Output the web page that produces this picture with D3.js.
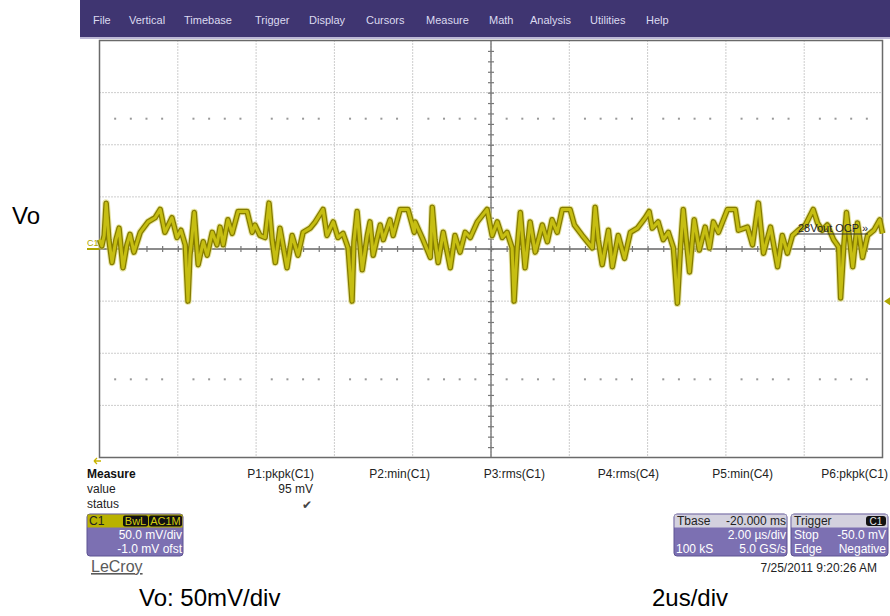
<!DOCTYPE html>
<html>
<head>
<meta charset="utf-8">
<script src="https://cdnjs.cloudflare.com/ajax/libs/d3/7.8.5/d3.min.js"></script>
<style>
  body { margin: 0; background: #fff; }
  svg text { font-family: "Liberation Sans", Arial, sans-serif; }
</style>
</head>
<body>
<svg id="scope" width="890" height="616"></svg>
<script>
// menu entries across the top bar
var menuItems = ["File", "Vertical", "Timebase", "Trigger", "Display", "Cursors", "Measure", "Math", "Analysis", "Utilities", "Help"];
var menuX = [93, 129, 184, 255, 309, 366, 426, 489, 530, 590, 646];

// grid: 10 time divisions (2 us/div), 8 volt divisions (50 mV/div)
var gridTimes = [0, 2, 4, 6, 8, 10, 12, 14, 16, 18, 20];
var gridVolts = [-200, -150, -100, -50, 0, 50, 100, 150, 200];

// C1 trace (time in us, voltage in mV)
var traceTime = [0.00, 0.06, 0.12, 0.17, 0.24, 0.32, 0.42, 0.50, 0.60, 0.70, 0.78, 0.88, 1.04, 1.24, 1.42, 1.55, 1.67, 1.85, 1.98, 2.08,
  2.19, 2.26, 2.31, 2.36, 2.42, 2.52, 2.65, 2.75, 2.88, 3.00, 3.08, 3.16, 3.28, 3.39, 3.54, 3.77, 3.90, 3.97, 4.10, 4.23,
  4.33, 4.41, 4.49, 4.61, 4.79, 4.92, 5.07, 5.20, 5.38, 5.51, 5.71, 5.81, 5.97, 6.09, 6.22, 6.35, 6.45, 6.50, 6.58, 6.71,
  6.84, 6.91, 6.99, 7.17, 7.25, 7.42, 7.50, 7.68, 7.88, 8.04, 8.06, 8.24, 8.45, 8.50, 8.57, 8.65, 8.78, 8.96, 9.08, 9.21,
  9.34, 9.47, 9.65, 9.90, 10.03, 10.16, 10.29, 10.41, 10.54, 10.59, 10.67, 10.75, 10.87, 11.00, 11.13, 11.31, 11.44, 11.56, 11.69, 11.82,
  12.02, 12.13, 12.33, 12.59, 12.66, 12.74, 12.84, 13.00, 13.10, 13.25, 13.41, 13.56, 13.74, 13.94, 14.04, 14.12, 14.27, 14.40, 14.53, 14.66,
  14.76, 14.84, 14.91, 15.07, 15.19, 15.32, 15.47, 15.58, 15.68, 15.81, 16.04, 16.24, 16.32, 16.55, 16.68, 16.83, 16.96, 17.14, 17.32, 17.44,
  17.57, 17.70, 17.85, 18.03, 18.23, 18.34, 18.46, 18.59, 18.75, 18.88, 18.93, 19.01, 19.08, 19.24, 19.36, 19.49, 19.62, 19.78, 19.93, 20.00];
var traceMv = [9, 3, 13, 44, 9, -13, 9, 20, -18, 4, 14, -3, 16, 26, 30, 38, 16, 30, 11, 18,
  4, -50, -6, 11, 35, -15, 7, -6, 16, 4, 21, 4, 28, 15, 36, 36, 16, 23, 13, 11,
  44, 9, -13, 20, -18, 13, -6, 16, 20, 26, 38, 13, 26, 11, 15, 1, -50, 7, 36, -20,
  13, 26, -6, 23, 9, 28, 13, 38, 38, 16, 26, 11, -8, 40, 9, -13, 16, -18, 13, -3,
  16, 11, 26, 38, 13, 26, 11, 16, 1, -50, 1, 35, -18, 26, -3, 23, 7, 28, 16, 38,
  38, 23, 13, 1, 40, 9, -15, 18, -17, 13, -9, 16, 20, 30, 36, 20, 26, 9, 16, 1,
  -52, 1, 38, -22, 28, -1, 21, 1, 26, 16, 38, 38, 18, 21, 4, 44, -4, 21, -17, 13,
  -4, 13, 18, 23, 38, 25, 18, 23, 9, 2, -47, 2, 35, -17, 25, -8, 13, 18, 28, 15];

// measurement table
var measureHeaders = ["P1:pkpk(C1)", "P2:min(C1)", "P3:rms(C1)", "P4:rms(C4)", "P5:min(C4)", "P6:pkpk(C1)"];
var measureValues = ["95 mV", "", "", "", "", ""];
var measureRight = [314, 430, 545, 659, 773, 888];

var svg = d3.select("#scope");
var gLeft = 99.5, gRight = 882.5, gTop = 40.5, gBottom = 457.5;

var xScale = d3.scaleLinear().domain([0, 20]).range([gLeft, gRight]);
var yScale = d3.scaleLinear().domain([-200, 200]).range([gBottom, gTop]);

DrawMenu();
DrawGrid();
DrawTrace();
DrawMarkers();
DrawMeasure();
DrawBoxes();
DrawNotes();

function DrawMenu() {
  svg.append("rect").attr("x", 80).attr("y", 0).attr("width", 810).attr("height", 37).attr("fill", "#3f3571");
  svg.append("rect").attr("x", 80).attr("y", 37).attr("width", 810).attr("height", 2).attr("fill", "#bdb8d6");
  svg.selectAll("text.menu")
    .data(menuItems).enter()
    .append("text")
    .attr("class", "menu")
    .attr("x", function(d, i) { return menuX[i]; })
    .attr("y", 24)
    .attr("font-size", "11px")
    .attr("fill", "#dcdaf0")
    .text(function(d) { return d; });
}

function DrawGrid() {
  var g = svg.append("g");
  // dotted division lines
  g.selectAll("line.vgrid")
    .data(gridTimes.slice(1, -1)).enter()
    .append("line")
    .attr("x1", function(d) { return xScale(d); })
    .attr("x2", function(d) { return xScale(d); })
    .attr("y1", gTop).attr("y2", gBottom)
    .style("stroke", "#9a9a9a").style("stroke-dasharray", "1,2");
  g.selectAll("line.hgrid")
    .data(gridVolts.slice(1, -1)).enter()
    .append("line")
    .attr("y1", function(d) { return yScale(d); })
    .attr("y2", function(d) { return yScale(d); })
    .attr("x1", gLeft).attr("x2", gRight)
    .style("stroke", "#9a9a9a").style("stroke-dasharray", "1,2");

  // sparse dot rows (half-division rows 2 and 7)
  var subT = d3.range(0.4, 20, 0.4).filter(function(t) { return Math.abs(t / 2 - Math.round(t / 2)) > 0.01; });
  [125, -125].forEach(function(v) {
    g.selectAll(null)
      .data(subT).enter()
      .append("rect")
      .attr("x", function(d) { return xScale(d) - 1; })
      .attr("y", yScale(v) - 1)
      .attr("width", 2).attr("height", 2)
      .attr("fill", "#999");
  });

  // centre cross with minor ticks
  g.append("line").attr("x1", gLeft).attr("x2", gRight).attr("y1", yScale(0)).attr("y2", yScale(0))
    .style("stroke", "#8c8c8c").style("stroke-width", 2);
  g.append("line").attr("x1", xScale(10)).attr("x2", xScale(10)).attr("y1", gTop).attr("y2", gBottom)
    .style("stroke", "#808080").style("stroke-width", 1.5);
  var xAxis = d3.axisBottom(xScale).tickValues(d3.range(0.4, 20, 0.4)).tickSize(6).tickFormat("");
  g.append("g").attr("transform", "translate(0," + (yScale(0) - 3) + ")").call(xAxis);
  var yAxis = d3.axisRight(yScale).tickValues(d3.range(-190, 200, 10)).tickSize(6).tickFormat("");
  g.append("g").attr("transform", "translate(" + (xScale(10) - 3) + ",0)").call(yAxis);
  g.selectAll("path.domain").remove();
  g.selectAll(".tick line").style("stroke", "#777").style("stroke-width", 1.2);

  g.append("rect").attr("x", gLeft).attr("y", gTop).attr("width", gRight - gLeft).attr("height", gBottom - gTop)
    .attr("fill", "none").style("stroke", "#6a6a6a").style("stroke-width", 1.5);
}

function DrawTrace() {
  var pts = traceTime.map(function(t, i) { return [t, traceMv[i]]; });
  var line = d3.line()
    .x(function(d) { return xScale(d[0]); })
    .y(function(d) { return yScale(d[1]); });
  svg.append("path").attr("d", line(pts))
    .attr("fill", "none").style("stroke", "#d8d46a").style("stroke-width", 7.5)
    .style("stroke-linejoin", "round").style("opacity", 0.6);
  svg.append("path").attr("d", line(pts))
    .attr("fill", "none").style("stroke", "#857c00").style("stroke-width", 5.5)
    .style("stroke-linejoin", "round");
  svg.append("path").attr("d", line(pts))
    .attr("fill", "none").style("stroke", "#c6be12").style("stroke-width", 3)
    .style("stroke-linejoin", "round");
}

function DrawMarkers() {
  var c = "#aea600";
  svg.append("text").attr("x", 87).attr("y", 246).attr("font-size", "9px").attr("fill", c).text("C1");
  svg.append("line").attr("x1", 87).attr("x2", gLeft).attr("y1", yScale(0)).attr("y2", yScale(0))
    .style("stroke", c).style("stroke-width", 2);
  // trigger level marker on the right
  var ty = yScale(-50);
  svg.append("path").attr("d", "M884," + ty + "L890," + (ty - 4) + "L890," + (ty + 4) + "Z").attr("fill", c);
  // arrow below the grid
  svg.append("path").attr("d", "M94,461L101,461M94,461L97,458M94,461L97,464")
    .style("stroke", "#c8b400").style("stroke-width", 1.3).attr("fill", "none");

  svg.append("text").attr("x", 798).attr("y", 232).attr("font-size", "11px").attr("fill", "#222").text("28Vout OCP \u00bb");
  svg.append("line").attr("x1", 797).attr("x2", 868).attr("y1", 234).attr("y2", 234)
    .style("stroke", "#333").style("stroke-width", 1);
}

function DrawMeasure() {
  svg.append("text").attr("x", 87).attr("y", 478).attr("font-size", "12px").attr("font-weight", "bold").attr("fill", "#111").text("Measure");
  svg.append("text").attr("x", 87).attr("y", 493).attr("font-size", "12px").attr("fill", "#222").text("value");
  svg.append("text").attr("x", 87).attr("y", 508).attr("font-size", "12px").attr("fill", "#222").text("status");

  svg.selectAll("text.mhead")
    .data(measureHeaders).enter()
    .append("text")
    .attr("x", function(d, i) { return measureRight[i]; })
    .attr("y", 478)
    .attr("text-anchor", "end")
    .attr("font-size", "12px").attr("fill", "#222")
    .text(function(d) { return d; });
  svg.selectAll("text.mval")
    .data(measureValues).enter()
    .append("text")
    .attr("x", function(d, i) { return measureRight[i] - 1; })
    .attr("y", 493)
    .attr("text-anchor", "end")
    .attr("font-size", "12px").attr("fill", "#222")
    .text(function(d) { return d; });
  svg.append("text").attr("x", 312).attr("y", 509).attr("text-anchor", "end")
    .attr("font-size", "12px").attr("fill", "#444").text("\u2714");
}

function DrawBoxes() {
  var purple = "#7c70b2", edge = "#5d5392";

  // C1 channel box
  svg.append("rect").attr("x", 87).attr("y", 514).attr("width", 96).attr("height", 42).attr("rx", 3)
    .attr("fill", purple).style("stroke", edge);
  svg.append("rect").attr("x", 87.5).attr("y", 514.5).attr("width", 95).attr("height", 13)
    .attr("fill", "#b9b200");
  svg.append("text").attr("x", 89).attr("y", 525).attr("font-size", "12px").attr("fill", "#222").text("C1");
  svg.append("rect").attr("x", 123).attr("y", 515.5).attr("width", 25).attr("height", 11).attr("rx", 2).attr("fill", "#111");
  svg.append("rect").attr("x", 149).attr("y", 515.5).attr("width", 33).attr("height", 11).attr("rx", 2).attr("fill", "#111");
  svg.append("text").attr("x", 135.5).attr("y", 525).attr("text-anchor", "middle").attr("font-size", "11px").attr("fill", "#d4cc10").text("BwL");
  svg.append("text").attr("x", 165.5).attr("y", 525).attr("text-anchor", "middle").attr("font-size", "11px").attr("fill", "#d4cc10").text("AC1M");
  svg.append("text").attr("x", 182).attr("y", 539).attr("text-anchor", "end").attr("font-size", "12px").attr("fill", "#fff").text("50.0 mV/div");
  svg.append("text").attr("x", 182).attr("y", 553).attr("text-anchor", "end").attr("font-size", "12px").attr("fill", "#fff").text("-1.0 mV ofst");

  // timebase box
  svg.append("rect").attr("x", 674).attr("y", 514).attr("width", 113).attr("height", 42).attr("rx", 3)
    .attr("fill", purple).style("stroke", edge);
  svg.append("rect").attr("x", 674.5).attr("y", 514.5).attr("width", 112).attr("height", 13).attr("fill", "#d3d1de");
  svg.append("text").attr("x", 677).attr("y", 525).attr("font-size", "12px").attr("fill", "#222").text("Tbase");
  svg.append("text").attr("x", 786).attr("y", 525).attr("text-anchor", "end").attr("font-size", "12px").attr("fill", "#222").text("-20.000 ms");
  svg.append("text").attr("x", 786).attr("y", 539).attr("text-anchor", "end").attr("font-size", "12px").attr("fill", "#fff").text("2.00 \u00b5s/div");
  svg.append("text").attr("x", 676).attr("y", 553).attr("font-size", "12px").attr("fill", "#fff").text("100 kS");
  svg.append("text").attr("x", 786).attr("y", 553).attr("text-anchor", "end").attr("font-size", "12px").attr("fill", "#fff").text("5.0 GS/s");

  // trigger box
  svg.append("rect").attr("x", 791).attr("y", 514).attr("width", 97).attr("height", 42).attr("rx", 3)
    .attr("fill", purple).style("stroke", edge);
  svg.append("rect").attr("x", 791.5).attr("y", 514.5).attr("width", 96).attr("height", 13).attr("fill", "#d3d1de");
  svg.append("text").attr("x", 794).attr("y", 525).attr("font-size", "12px").attr("fill", "#222").text("Trigger");
  svg.append("rect").attr("x", 866).attr("y", 516).attr("width", 20).attr("height", 10).attr("rx", 3).attr("fill", "#111");
  svg.append("text").attr("x", 876).attr("y", 525).attr("text-anchor", "middle").attr("font-size", "10px").attr("fill", "#e8e8e8").text("C1");
  svg.append("text").attr("x", 794).attr("y", 539).attr("font-size", "12px").attr("fill", "#fff").text("Stop");
  svg.append("text").attr("x", 886).attr("y", 539).attr("text-anchor", "end").attr("font-size", "12px").attr("fill", "#fff").text("-50.0 mV");
  svg.append("text").attr("x", 794).attr("y", 553).attr("font-size", "12px").attr("fill", "#fff").text("Edge");
  svg.append("text").attr("x", 886).attr("y", 553).attr("text-anchor", "end").attr("font-size", "12px").attr("fill", "#fff").text("Negative");

  svg.append("text").attr("x", 877).attr("y", 572).attr("text-anchor", "end").attr("font-size", "12px").attr("fill", "#222").text("7/25/2011 9:20:26 AM");

  svg.append("text").attr("x", 91).attr("y", 572).attr("font-size", "16px").attr("fill", "#5a5a5a")
    .style("text-decoration", "underline").text("LeCroy");
}

function DrawNotes() {
  svg.append("text").attr("x", 12).attr("y", 224).attr("font-size", "24px").attr("fill", "#000").text("Vo");
  svg.append("text").attr("x", 139).attr("y", 606).attr("font-size", "24px").attr("fill", "#000").text("Vo: 50mV/div");
  svg.append("text").attr("x", 652).attr("y", 606).attr("font-size", "24px").attr("fill", "#000").text("2us/div");
}
</script>
</body>
</html>
